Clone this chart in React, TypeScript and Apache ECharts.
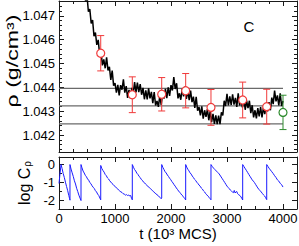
import React, { useEffect, useRef } from "react";
import * as echarts from "echarts";

// ---------- data ----------
const tickTimes = [0, 1000, 2000, 3000, 4000];
const rhoTicks = [1.042, 1.043, 1.044, 1.045, 1.046, 1.047];
const logTicks = [-2, -1, 0];

// density trace, sampled every 25 (10^3 MCS) starting at t = 450
const traceStart = 450;
const traceStep = 25;
const rhoTrace = [
  1.0482, 1.04761, 1.04784, 1.04717, 1.04728, 1.04668, 1.04682, 1.04614, 1.0463, 1.04578,
  1.04599, 1.04539, 1.04553, 1.04492, 1.04517, 1.0448, 1.04526, 1.04471, 1.04486, 1.04431,
  1.0447, 1.04407, 1.04418, 1.04378, 1.0441, 1.04366, 1.04409, 1.0439, 1.04434, 1.04378,
  1.04405, 1.04356, 1.04389, 1.04354, 1.04398, 1.04373, 1.04422, 1.04379, 1.0442, 1.0438,
  1.04414, 1.04369, 1.04398, 1.0435, 1.04387, 1.0435, 1.04396, 1.04354, 1.04381, 1.04334,
  1.0438, 1.04324, 1.04343, 1.04318, 1.04365, 1.04326, 1.04374, 1.04353, 1.04394, 1.04355,
  1.044, 1.04364, 1.04409, 1.04387, 1.04443, 1.04393, 1.04417, 1.04354, 1.04375, 1.04348,
  1.04394, 1.04362, 1.04403, 1.04352, 1.04387, 1.04346, 1.04386, 1.04338, 1.04361, 1.04314,
  1.0436, 1.04302, 1.04318, 1.04283, 1.0432, 1.04269, 1.04304, 1.04276, 1.04309, 1.04262,
  1.043, 1.04254, 1.04289, 1.04247, 1.04283, 1.04246, 1.04282, 1.04246, 1.04295, 1.04282,
  1.04344, 1.04322, 1.04373, 1.04324, 1.04362, 1.04326, 1.04371, 1.04328, 1.04356, 1.04318,
  1.04375, 1.04324, 1.04348, 1.04316, 1.04355, 1.04306, 1.04344, 1.04313, 1.04344, 1.04292,
  1.04325, 1.04274, 1.04304, 1.0427, 1.04313, 1.04278, 1.04317, 1.04274, 1.04315, 1.04288,
  1.04334, 1.04299, 1.04338, 1.04304, 1.04357, 1.0433, 1.04386, 1.04341, 1.04366, 1.04324,
  1.04375, 1.04322, 1.04343,
];

// block averages with error bars
const blockTimes = [745, 1309, 1834, 2262, 2714, 3280, 3709];
const blockRho = [1.04543, 1.04369, 1.04371, 1.04386, 1.04316, 1.04347, 1.04319];
const blockErr = [0.00074, 0.00075, 0.0007, 0.00072, 0.00075, 0.00075, 0.00073];
const finalTime = [4000];
const finalRho = [1.04295];
const finalErr = [0.00072];

// mean and ± band
const bandLevels = [1.04396, 1.04322, 1.04247];
const bandEnd = 4000;

// log autocorrelation (sawtooth) [t, log C]
const logCorr: [number, number][] = [
  [0, -1.05], [15, -0.6], [36, 0],
  [55, -0.22], [75, -0.5], [95, -0.72], [115, -0.98], [135, -1.22], [155, -1.45], [175, -1.72], [190, -1.9], [196, -1.98], [196, 0],
  [215, -0.25], [235, -0.46], [255, -0.66], [275, -0.9], [295, -1.08], [315, -1.32], [335, -1.5], [355, -1.7], [375, -1.86], [393, -2.0], [393, 0],
  [410, -0.18], [430, -0.36], [450, -0.47], [470, -0.6], [490, -0.68], [510, -0.8], [530, -0.87], [550, -1.0], [570, -1.06], [590, -1.18], [610, -1.26], [630, -1.33], [650, -1.45], [670, -1.52], [690, -1.64], [710, -1.72], [730, -1.86], [745, -1.96], [745, -0.05],
  [765, -0.22], [785, -0.33], [805, -0.42], [825, -0.55], [845, -0.62], [865, -0.74], [885, -0.8], [905, -0.9], [925, -0.97], [945, -1.05], [965, -1.1], [985, -1.18], [1005, -1.22], [1025, -1.3], [1045, -1.34], [1065, -1.42], [1085, -1.47], [1105, -1.52], [1125, -1.55], [1145, -1.62], [1165, -1.64], [1185, -1.7], [1205, -1.67], [1225, -1.72], [1245, -1.7], [1265, -1.74], [1280, -1.72], [1295, -1.88], [1309, -1.96], [1309, 0],
  [1330, -0.15], [1350, -0.28], [1370, -0.36], [1390, -0.48], [1410, -0.55], [1430, -0.66], [1450, -0.72], [1470, -0.83], [1490, -0.88], [1510, -0.98], [1530, -1.02], [1550, -1.1], [1570, -1.16], [1590, -1.22], [1610, -1.27], [1630, -1.33], [1650, -1.38], [1670, -1.46], [1690, -1.5], [1710, -1.58], [1730, -1.62], [1750, -1.68], [1770, -1.72], [1790, -1.8], [1810, -1.84], [1825, -1.9], [1834, -1.86], [1834, 0],
  [1855, -0.16], [1875, -0.28], [1895, -0.4], [1915, -0.47], [1935, -0.58], [1955, -0.66], [1975, -0.76], [1995, -0.84], [2015, -0.94], [2035, -1.02], [2055, -1.12], [2075, -1.2], [2095, -1.3], [2115, -1.38], [2135, -1.47], [2155, -1.54], [2175, -1.62], [2195, -1.7], [2215, -1.76], [2235, -1.85], [2250, -1.9], [2262, -1.97], [2262, 0],
  [2280, -0.14], [2300, -0.26], [2320, -0.35], [2340, -0.46], [2360, -0.53], [2380, -0.64], [2400, -0.72], [2420, -0.82], [2440, -0.88], [2460, -0.98], [2480, -1.05], [2500, -1.14], [2520, -1.2], [2540, -1.3], [2560, -1.36], [2580, -1.46], [2600, -1.52], [2620, -1.62], [2640, -1.68], [2660, -1.76], [2680, -1.82], [2700, -1.9], [2714, -1.96], [2714, 0],
  [2735, -0.1], [2760, -0.2], [2785, -0.28], [2810, -0.36], [2835, -0.44], [2860, -0.52], [2885, -0.64], [2910, -0.76], [2935, -0.88], [2960, -1.0], [2980, -1.1], [3000, -1.2], [3020, -1.27], [3040, -1.34], [3060, -1.42], [3080, -1.48], [3100, -1.53], [3115, -1.56], [3130, -1.44], [3145, -1.58], [3160, -1.52], [3175, -1.5], [3190, -1.62], [3210, -1.68], [3230, -1.72], [3250, -1.8], [3268, -1.9], [3280, -1.97], [3280, 0],
  [3300, -0.1], [3320, -0.2], [3345, -0.32], [3370, -0.45], [3390, -0.55], [3410, -0.65], [3430, -0.75], [3450, -0.85], [3470, -0.92], [3490, -1.0], [3510, -1.1], [3530, -1.2], [3550, -1.3], [3570, -1.38], [3590, -1.45], [3610, -1.52], [3630, -1.6], [3650, -1.68], [3670, -1.74], [3690, -1.84], [3709, -1.95], [3709, 0],
  [3730, -0.1], [3750, -0.2], [3775, -0.3], [3800, -0.4], [3825, -0.5], [3850, -0.62], [3875, -0.72], [3900, -0.85], [3925, -0.92], [3950, -1.04], [3975, -1.12], [4000, -1.25],
];

// ---------- style / layout ----------
const FONT = "'Liberation Sans', Arial, Helvetica, sans-serif";
const AXC = "#1a1a1a";
const RED = "#f03a3a";
const GREEN = "#2e8b2e";
const BLUE = "#1a1aff";
const T_MIN = 0;
const T_MAX = 4250;
const TOP_MIN = 1.04129;
const TOP_MAX = 1.04762;
const BOT_MIN = -2.47;
const BOT_MAX = 0.42;

const xMinor: number[] = [];
for (let k = 1; k < 17; k++) if (k % 4 !== 0) xMinor.push(k * 250);
const rhoMinor: number[] = [];
for (let k = 10414; k <= 10476; k += 2) if (k % 10 !== 0) rhoMinor.push(k / 10000);
const logMinor = [-1.5, -0.5];

function axisCommon(min: number, max: number, ticks: number[], len: number, showLine: boolean) {
  return {
    type: "value" as const,
    min,
    max,
    axisLine: { show: showLine, onZero: false, lineStyle: { color: AXC, width: 1 } },
    axisTick: { show: true, inside: true, length: len, customValues: ticks, lineStyle: { color: AXC, width: 1 } },
    axisLabel: { show: false },
    splitLine: { show: false },
    minorTick: { show: false },
  };
}

function buildX(grid: number, withLabels: boolean, extra: any = {}) {
  const base: any[] = [
    { ...axisCommon(T_MIN, T_MAX, tickTimes, 5, true), gridIndex: grid, position: "bottom" },
    { ...axisCommon(T_MIN, T_MAX, xMinor, 3, false), gridIndex: grid, position: "bottom" },
    { ...axisCommon(T_MIN, T_MAX, tickTimes, 5, true), gridIndex: grid, position: "top" },
    { ...axisCommon(T_MIN, T_MAX, xMinor, 3, false), gridIndex: grid, position: "top" },
  ];
  if (withLabels) {
    base[0] = {
      ...base[0],
      axisLabel: {
        show: true,
        customValues: tickTimes,
        margin: 3,
        color: "#000",
        fontSize: 13,
        fontFamily: FONT,
        formatter: (v: number) => String(Math.round(v)),
      },
      ...extra,
    };
  }
  return base;
}

function buildY(grid: number, min: number, max: number, major: number[], minor: number[], fmt: (v: number) => string, extra: any = {}) {
  return [
    {
      ...axisCommon(min, max, major, 5, true),
      gridIndex: grid,
      position: "left",
      axisLabel: { show: true, customValues: major, margin: 4, color: "#000", fontSize: 13, fontFamily: FONT, formatter: fmt },
      ...extra,
    },
    { ...axisCommon(min, max, minor, 3, false), gridIndex: grid, position: "left" },
    { ...axisCommon(min, max, major, 5, true), gridIndex: grid, position: "right" },
    { ...axisCommon(min, max, minor, 3, false), gridIndex: grid, position: "right" },
  ];
}

function errorBarSeries(times: number[], vals: number[], errs: number[], color: string) {
  return {
    type: "custom",
    xAxisIndex: 0,
    yAxisIndex: 0,
    z: 5,
    silent: true,
    encode: { x: 0, y: 1 },
    data: times.map((t, i) => [t, vals[i], errs[i]]),
    renderItem: (_p: any, api: any) => {
      const t = api.value(0);
      const c = api.value(1);
      const e = api.value(2);
      const hi = api.coord([t, c + e]);
      const lo = api.coord([t, c - e]);
      const hw = 3.5;
      const style = { stroke: color, lineWidth: 1 };
      return {
        type: "group",
        children: [
          { type: "line", shape: { x1: hi[0], y1: hi[1], x2: lo[0], y2: lo[1] }, style },
          { type: "line", shape: { x1: hi[0] - hw, y1: hi[1], x2: hi[0] + hw, y2: hi[1] }, style },
          { type: "line", shape: { x1: lo[0] - hw, y1: lo[1], x2: lo[0] + hw, y2: lo[1] }, style },
        ],
      };
    },
  };
}

function circleSeries(times: number[], vals: number[], color: string) {
  return {
    type: "scatter",
    xAxisIndex: 0,
    yAxisIndex: 0,
    z: 6,
    silent: true,
    symbol: "circle",
    symbolSize: 8,
    itemStyle: { color: "#ffffff", borderColor: color, borderWidth: 1.2, opacity: 1 },
    data: times.map((t, i) => [t, vals[i]]),
  };
}

export default function App() {
  const ref = useRef<HTMLDivElement>(null);
  useEffect(() => {
    if (!ref.current) return;
    const chart = echarts.init(ref.current, null, { renderer: "svg" });
    const traceData = rhoTrace.map((v, i) => [traceStart + i * traceStep, v]);
    const option: any = {
      animation: false,
      backgroundColor: "#ffffff",
      grid: [
        { left: 59, top: 1, width: 238, height: 151, outerBoundsMode: "none", containLabel: false },
        { left: 59, top: 157, width: 238, height: 52, outerBoundsMode: "none", containLabel: false },
      ],
      xAxis: [
        ...buildX(0, false),
        ...buildX(1, true, {
          name: "t (10³ MCS)",
          nameLocation: "middle",
          nameGap: 16,
          nameTextStyle: { color: "#000", fontSize: 15, fontFamily: FONT },
        }),
      ],
      yAxis: [
        ...buildY(0, TOP_MIN, TOP_MAX, rhoTicks, rhoMinor, (v: number) => v.toFixed(3)),
        ...buildY(1, BOT_MIN, BOT_MAX, logTicks, logMinor, (v: number) => String(Math.round(v)), {
          name: "{a|log C}{b|ρ}",
          nameLocation: "middle",
          nameGap: 21,
          nameRotate: 90,
          nameTextStyle: {
            color: "#000",
            fontFamily: FONT,
            fontSize: 16,
            rich: {
              a: { fontSize: 16, fontFamily: FONT, color: "#000" },
              b: { fontSize: 10, fontFamily: FONT, color: "#000", verticalAlign: "bottom", padding: [6, 0, 0, 1] },
            },
          },
        }),
      ],
      graphic: [
        {
          type: "group",
          x: 12,
          y: 61,
          rotation: Math.PI / 2,
          scaleX: 1.45,
          silent: true,
          children: [
            {
              type: "text",
              style: {
                text: "ρ (g/cm³)",
                font: `16px ${FONT}`,
                fill: "#000",
                align: "center",
                verticalAlign: "middle",
              },
            },
          ],
        },
        {
          type: "text",
          x: 249,
          y: 26,
          silent: true,
          style: { text: "C", font: `15px ${FONT}`, fill: "#000", align: "center", verticalAlign: "middle" },
        },
      ],
      series: [
        ...bandLevels.map((lv) => ({
          type: "line",
          xAxisIndex: 0,
          yAxisIndex: 0,
          silent: true,
          showSymbol: false,
          symbol: "none",
          z: 1,
          lineStyle: { color: "#6a6a6a", width: 1.2 },
          data: [
            [0, lv],
            [bandEnd, lv],
          ],
        })),
        {
          type: "line",
          xAxisIndex: 0,
          yAxisIndex: 0,
          silent: true,
          showSymbol: false,
          symbol: "none",
          z: 2,
          clip: true,
          lineStyle: { color: "#000000", width: 1.5 },
          data: traceData,
        },
        errorBarSeries(blockTimes, blockRho, blockErr, RED),
        errorBarSeries(finalTime, finalRho, finalErr, GREEN),
        circleSeries(blockTimes, blockRho, RED),
        circleSeries(finalTime, finalRho, GREEN),
        {
          type: "line",
          xAxisIndex: 4,
          yAxisIndex: 4,
          silent: true,
          showSymbol: false,
          symbol: "none",
          clip: true,
          lineStyle: { color: BLUE, width: 1 },
          data: logCorr,
        },
      ],
    };
    chart.setOption(option);
    return () => chart.dispose();
  }, []);
  return <div ref={ref} style={{ position: "absolute", left: 0, top: 0, width: 299, height: 246 }} />;
}
